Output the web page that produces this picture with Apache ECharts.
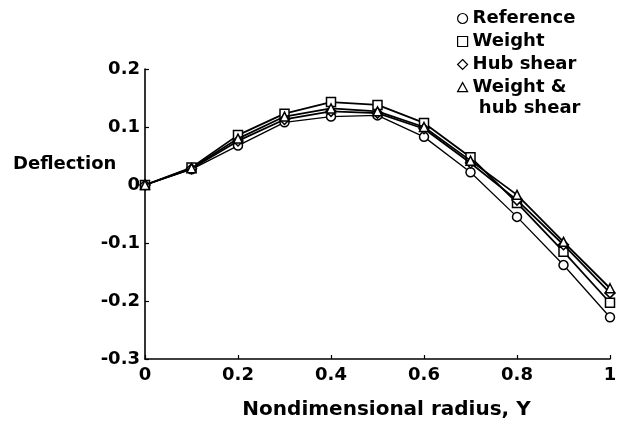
<!DOCTYPE html>
<html>
<head>
<meta charset="utf-8">
<script src="https://cdn.jsdelivr.net/npm/echarts@6/dist/echarts.min.js"></script>
<style>
html,body{margin:0;padding:0;background:#fff;}
#c{width:622px;height:429px;}
</style>
</head>
<body>
<div id="c"></div>
<script>
var radius = [0, 0.1, 0.2, 0.3, 0.4, 0.5, 0.6, 0.7, 0.8, 0.9, 1.0];
var seriesNames = ['Reference', 'Weight', 'Hub shear', 'Weight & hub shear'];
var reference = [0, 0.027, 0.068, 0.108, 0.118, 0.120, 0.083, 0.022, -0.055, -0.138, -0.228];
var weight = [0, 0.030, 0.086, 0.123, 0.143, 0.138, 0.107, 0.048, -0.031, -0.115, -0.203];
var hubShear = [0, 0.028, 0.076, 0.113, 0.127, 0.124, 0.097, 0.038, -0.026, -0.103, -0.186];
var weightHub = [0, 0.029, 0.080, 0.118, 0.132, 0.127, 0.100, 0.042, -0.017, -0.098, -0.178];
var xTicks = ['0', '0.2', '0.4', '0.6', '0.8', '1'];
var yTicks = ['-0.3', '-0.2', '-0.1', '0', '0.1', '0.2'];

var FONT = 'DejaVu Sans';
function pairs(ys){ return radius.map(function(x,i){ return [x, ys[i]]; }); }
var symbols = ['circle','rect','diamond','triangle'];
var datas = [reference, weight, hubShear, weightHub];
var widths = [1.3, 1.8, 1.8, 1.8];
var series = datas.map(function(d, i){
  return {
    name: seriesNames[i],
    type: 'line',
    data: pairs(d),
    symbol: symbols[i],
    symbolSize: i===2 ? 10 : 9,
    showAllSymbol: true,
    z: 2 + i,
    lineStyle: {color: '#000', width: widths[i]},
    itemStyle: {color: '#fff', borderColor: '#000', borderWidth: 1.5},
    emphasis: {disabled: true},
    animation: false
  };
});
var iconStyle = {color: '#fff', borderColor: '#000', borderWidth: 1.2};
function legendItem(i){
  return {name: seriesNames[i], icon: symbols[i], itemStyle: iconStyle};
}
var legendText = {fontFamily: FONT, fontWeight: 'bold', fontSize: 18, color: '#000', lineHeight: 21};
// triangle placed beside the first line of a two-line label
var topTriangle = 'path://M0,0L0,0M5,6L10,15L0,15ZM10,42L10,42';

var chart = echarts.init(document.getElementById('c'));
chart.setOption({
  backgroundColor: '#fff',
  animation: false,
  grid: {left: 145, right: 12, top: 69, bottom: 70},
  legend: [{
    orient: 'vertical',
    left: 457,
    top: 8,
    padding: 0,
    itemWidth: 10,
    itemHeight: 10,
    itemGap: 2,
    selectedMode: false,
    data: [legendItem(0), legendItem(1), legendItem(2)],
    textStyle: legendText
  }, {
    orient: 'vertical',
    left: 457,
    top: 76,
    padding: 0,
    itemWidth: 10,
    itemHeight: 42,
    selectedMode: false,
    data: [{name: seriesNames[3], icon: topTriangle, itemStyle: iconStyle}],
    formatter: function(n){ return 'Weight &\n hub shear'; },
    textStyle: legendText
  }],
  xAxis: {
    type: 'value', min: 0, max: 1, interval: 0.2,
    name: 'Nondimensional radius, Y', nameLocation: 'middle', nameGap: 41,
    nameTextStyle: {fontFamily: FONT, fontWeight: 'bold', fontSize: 20, color: '#000', padding: [0,0,0,18]},
    axisLine: {onZero: false, lineStyle: {color: '#000', width: 1.6}},
    axisTick: {inside: true, length: 4, lineStyle: {color: '#000', width: 1.2}},
    splitLine: {show: false},
    axisLabel: {fontFamily: FONT, fontWeight: 'bold', fontSize: 18, color: '#000', margin: 7,
      formatter: function(v){ return xTicks[Math.round(v/0.2)]; }}
  },
  yAxis: {
    type: 'value', min: -0.3, max: 0.2, interval: 0.1,
    axisLine: {onZero: false, lineStyle: {color: '#000', width: 1.6}},
    axisTick: {inside: true, length: 4, lineStyle: {color: '#000', width: 1.2}},
    splitLine: {show: false},
    axisLabel: {fontFamily: FONT, fontWeight: 'bold', fontSize: 18, color: '#000', margin: 5,
      formatter: function(v){ return yTicks[Math.round((v + 0.3)/0.1)]; }}
  },
  graphic: [{
    type: 'text', left: 13, top: 155,
    style: {text: 'Deflection', fontFamily: FONT, fontWeight: 'bold', fontSize: 18, fill: '#000'}
  }],
  series: series
});
</script>
</body>
</html>
